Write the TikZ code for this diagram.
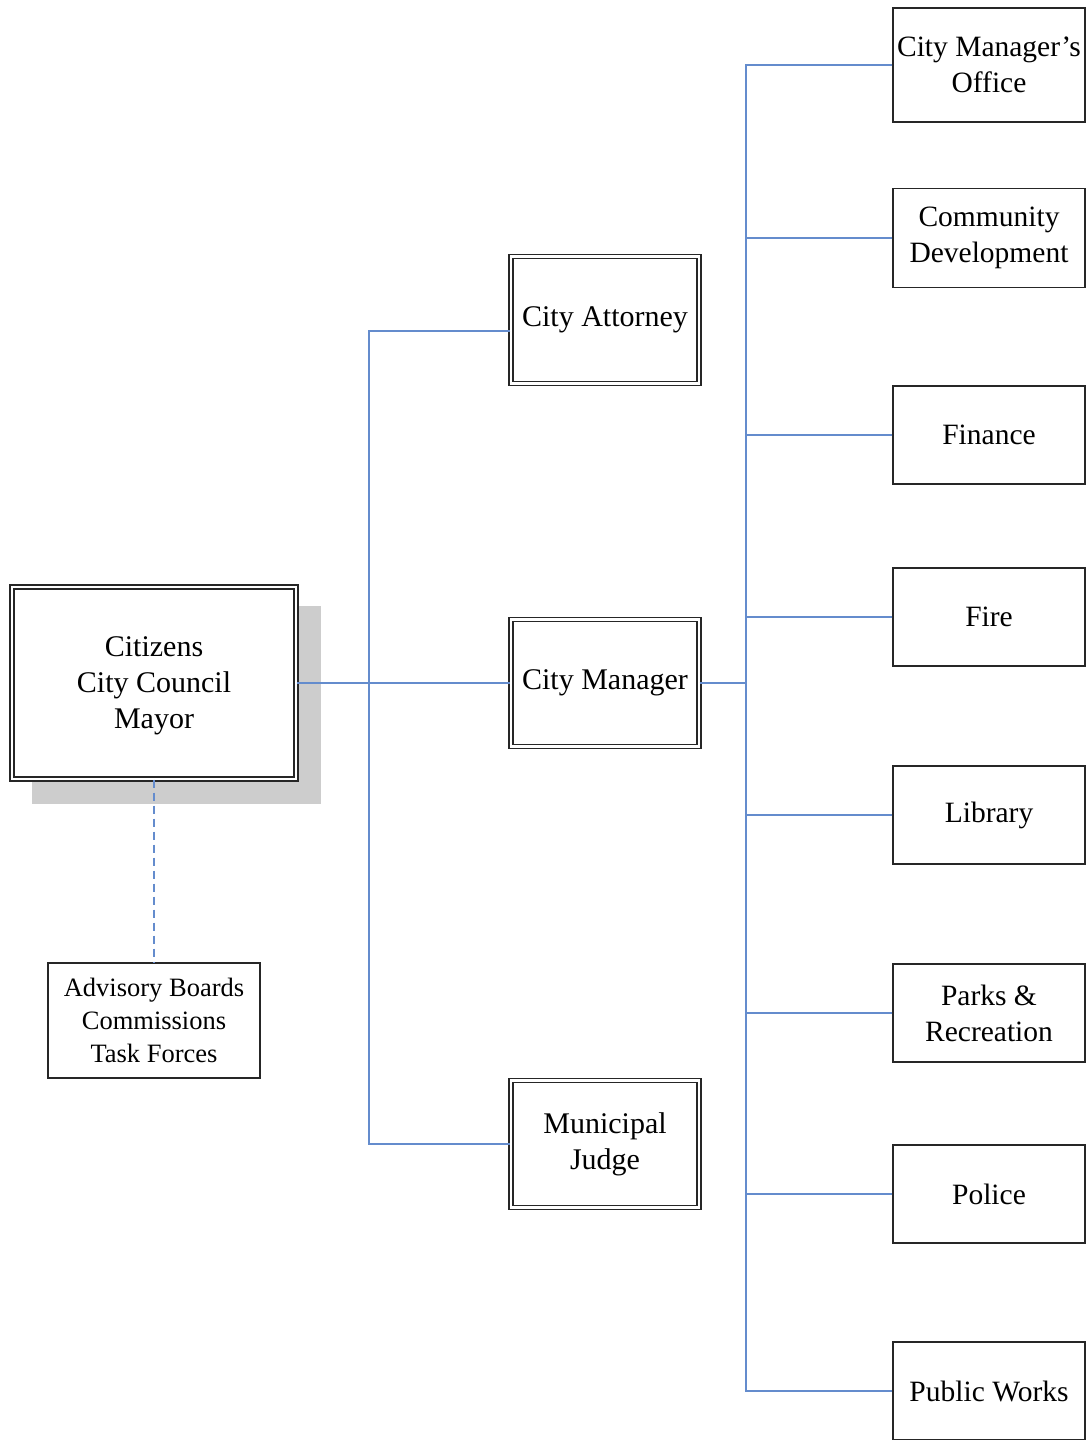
\documentclass[tikz,border=0pt]{standalone}
\usepackage{fontspec}
\setmainfont{Liberation Serif}
\definecolor{linkblue}{RGB}{100,140,205}
\definecolor{shadowgray}{RGB}{205,205,205}
\begin{document}
\begin{tikzpicture}[x=1pt,y=-1pt,
  conn/.style={draw=linkblue,line width=1.4pt},
  dbox/.style={draw=black!85,double=white,double distance=2.4pt,line width=1.4pt,fill=white,
     minimum width=188pt,minimum height=127pt,inner sep=0pt,align=center,
     font=\fontsize{30}{36}\selectfont},
  sbox/.style={draw=black!85,line width=1.3pt,fill=white,minimum width=192pt,minimum height=98pt,
     inner sep=0pt,align=center,font=\fontsize{29.5}{36}\selectfont}]
\useasboundingbox (0,0) rectangle (1089,1440);
% shadow
\fill[shadowgray] (32,606) rectangle (321,804);
% main box
\node[dbox,minimum width=284pt,minimum height=192pt,text depth=0pt] (main) at (154,683) {Citizens\\City Council\\Mayor};
\node[sbox,minimum width=212pt,minimum height=115pt,font=\fontsize{26.5}{33}\selectfont] (adv) at (154,1020.5) {Advisory Boards\\Commissions\\Task Forces};
% middle column
\node[dbox] (ca) at (605,320) {City Attorney};
\node[dbox] (cm) at (605,683) {City Manager};
\node[dbox] (mj) at (605,1144) {Municipal\\Judge};
% right column
\node[sbox,minimum height=114pt] (cmo) at (989,65) {City Manager's\\Office};
\node[sbox,minimum height=99pt] (cd) at (989,238) {Community\\Development};
\node[sbox] (fin) at (989,435) {Finance};
\node[sbox] (fire) at (989,617) {Fire};
\node[sbox] (lib) at (989,815) {Library};
\node[sbox] (parks) at (989,1013) {Parks \&\\Recreation};
\node[sbox] (pol) at (989,1194) {Police};
\node[sbox] (pw) at (989,1391) {Public Works};
% junction coordinates
\coordinate (j1) at (369,683);
\coordinate (j2) at (746,683);
% connectors left
\draw[conn] (main.east) -- (cm.west);
\draw[conn] ([yshift=-11pt]ca.west) -| (j1) |- (mj.west);
% connectors right
\draw[conn] (cm.east) -- (j2);
\draw[conn] (cmo.west) -| (j2) |- (pw.west);
\foreach \n in {cd,fin,fire,lib,parks,pol}{
  \draw[conn] (\n.west) -- (j2 |- \n.west);
}
% dashed
\draw[conn,dashed,dash pattern=on 8pt off 5pt] (main.south) -- (adv.north);
\end{tikzpicture}
\end{document}
